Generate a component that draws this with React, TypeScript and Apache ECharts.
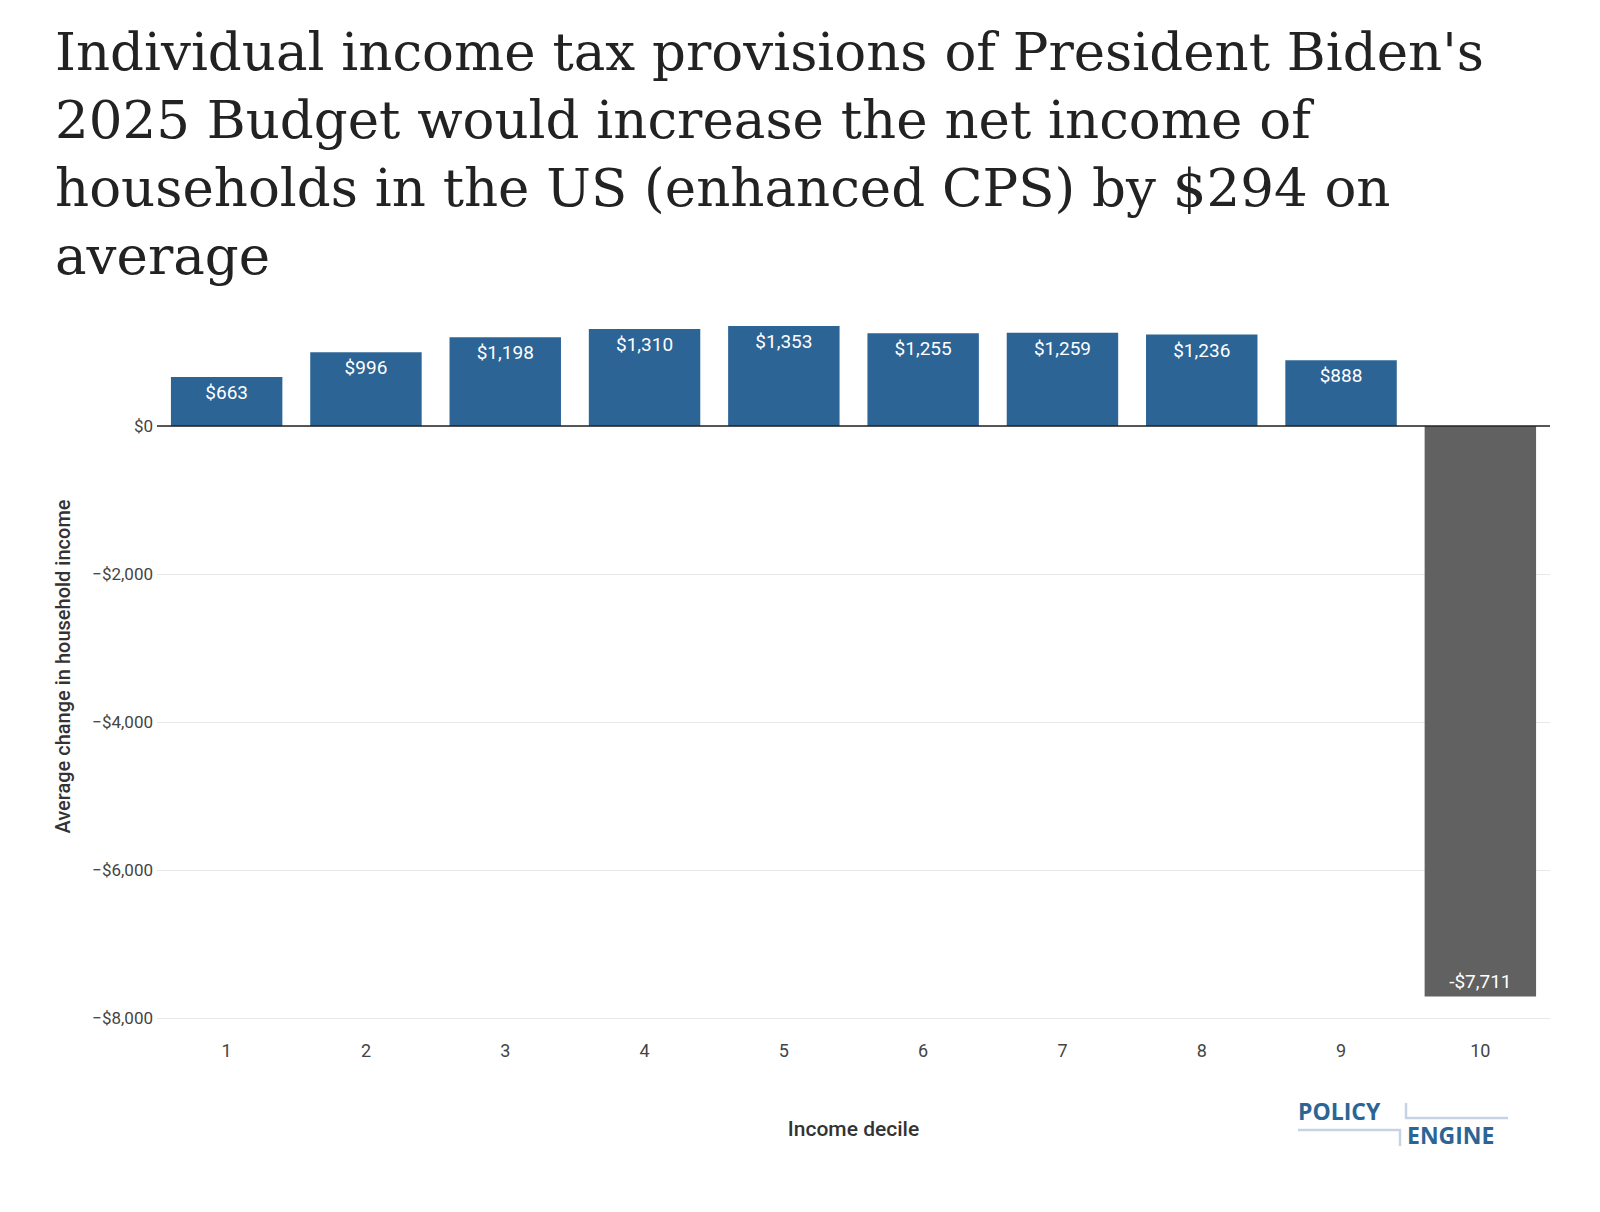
import { useEffect, useRef } from 'react';
import * as echarts from 'echarts';

const deciles = ['1', '2', '3', '4', '5', '6', '7', '8', '9', '10'];
const changes = [663, 996, 1198, 1310, 1353, 1255, 1259, 1236, 888, -7711];

const title =
  "Individual income tax provisions of President Biden's\n2025 Budget would increase the net income of\nhouseholds in the US (enhanced CPS) by $294 on\naverage";

const money = (v: number, minus: string) =>
  (v < 0 ? minus : '') + '$' + Math.abs(v).toLocaleString('en-US');

export default function App() {
  const ref = useRef<HTMLDivElement | null>(null);

  useEffect(() => {
    document.body.style.margin = '0';
    if (!ref.current) return;
    const chart = echarts.init(ref.current, undefined, { renderer: 'svg' });
    const light = '#c5d3e3';
    const blue = '#2c6496';
    chart.setOption({
      animation: false,
      textStyle: { fontFamily: 'Roboto' },
      title: {
        text: title,
        left: 50,
        top: 12,
        textStyle: { fontFamily: 'DejaVu Serif', fontWeight: 'normal', fontSize: 53, lineHeight: 68, color: '#222' },
      },
      grid: { left: 157, right: 50, top: 315, bottom: 194 },
      xAxis: {
        type: 'category',
        data: deciles,
        name: 'Income decile',
        nameLocation: 'middle',
        nameGap: 100,
        nameTextStyle: { fontSize: 21, color: '#333', fontWeight: 500 },
        axisLine: { show: false, onZero: false },
        axisTick: { show: false },
        axisLabel: { fontSize: 18, color: '#444', margin: 32, verticalAlign: 'middle', lineHeight: 20 },
      },
      yAxis: {
        type: 'value',
        min: -8000,
        max: 1500,
        interval: 2000,
        name: 'Average change in household income',
        nameLocation: 'middle',
        nameGap: 84,
        nameTextStyle: { fontSize: 20, color: '#333', fontWeight: 500 },
        axisLine: { show: false },
        axisTick: { show: false },
        axisLabel: {
          fontSize: 17,
          color: '#444',
          margin: 4,
          formatter: (v: number) => (v > 0 ? '' : money(v, '\u2212')),
        },
        splitLine: {
          lineStyle: { color: ['#e8e8e8', '#e8e8e8', '#e8e8e8', '#e8e8e8', '#e8e8e8', 'transparent'] },
        },
      },
      series: [
        {
          type: 'bar',
          barCategoryGap: '20%',
          data: changes.map((v) => ({
            value: v,
            itemStyle: { color: v < 0 ? '#616161' : blue },
            label: { position: v < 0 ? 'insideBottom' : 'insideTop' },
          })),
          label: {
            show: true,
            color: '#fff',
            fontSize: 19,
            distance: 6,
            formatter: (p: any) => money(p.value, '-'),
          },
          markLine: {
            silent: true,
            symbol: 'none',
            label: { show: false },
            lineStyle: { color: '#222', width: 1.5, type: 'solid' },
            data: [{ yAxis: 0 }],
          },
        },
      ],
      graphic: [
        { type: 'text', left: 1298, top: 1099, style: { text: 'POLICY', font: 'bold 23px "Open Sans"', fill: blue, letterSpacing: 4 } },
        { type: 'text', left: 1407, top: 1123, style: { text: 'ENGINE', font: 'bold 23px "Open Sans"', fill: blue, letterSpacing: 4 } },
        { type: 'polyline', shape: { points: [[1406, 1103], [1406, 1118], [1508, 1118]] }, style: { stroke: light, lineWidth: 2.5, fill: 'none' } },
        { type: 'polyline', shape: { points: [[1298, 1130], [1400, 1130], [1400, 1146]] }, style: { stroke: light, lineWidth: 2.5, fill: 'none' } },
      ],
    });
    return () => chart.dispose();
  }, []);

  return <div ref={ref} style={{ width: 1600, height: 1212 }} />;
}
